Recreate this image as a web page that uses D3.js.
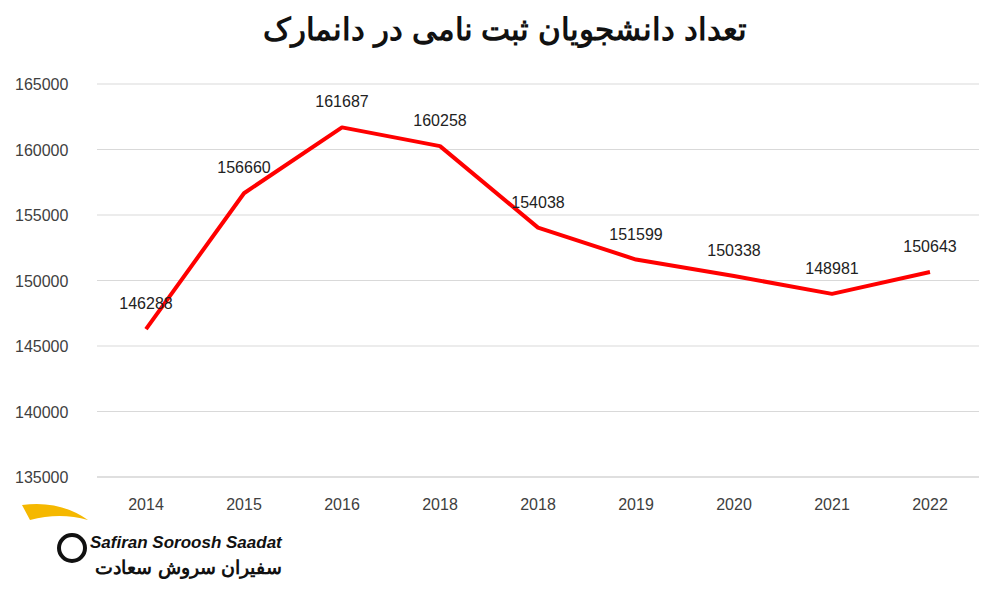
<!DOCTYPE html>
<html><head><meta charset="utf-8">
<script src="https://cdn.jsdelivr.net/npm/d3@7"></script>
<style>body{margin:0;background:#fff}text{font-family:"Liberation Sans",Arial,sans-serif}</style>
</head><body><svg id="c" width="1000" height="600"></svg>
<script>
var years = ["2014","2015","2016","2018","2018","2019","2020","2021","2022"];
var students = [146288,156660,161687,160258,154038,151599,150338,148981,150643];
var yTicks = [135000,140000,145000,150000,155000,160000,165000];

var svg = d3.select("#c");
var x = d3.scaleBand().domain(d3.range(years.length)).range([97,979]);
var y = d3.scaleLinear().domain([135000,165000]).range([477,84]);

svg.append("g").selectAll("line").data(yTicks.slice(1)).join("line")
  .attr("x1",97).attr("x2",979).attr("y1",d=>y(d)).attr("y2",d=>y(d))
  .attr("stroke","#d9d9d9");
svg.append("line").attr("x1",97).attr("x2",979).attr("y1",477).attr("y2",477).attr("stroke","#bfbfbf");

svg.append("g").selectAll("text").data(yTicks).join("text")
  .attr("x",15).attr("y",d=>y(d)+6).attr("font-size",16).attr("fill","#404040").text(d=>d);

svg.append("g").selectAll("text").data(years).join("text")
  .attr("x",(d,i)=>x(i)+x.bandwidth()/2).attr("y",510).attr("text-anchor","middle")
  .attr("font-size",16).attr("fill","#404040").text(d=>d);

var line = d3.line().x((d,i)=>x(i)+x.bandwidth()/2).y(d=>y(d));
svg.append("path").datum(students).attr("d",line).attr("fill","none")
  .attr("stroke","#ff0000").attr("stroke-width",4).attr("stroke-linejoin","round");

svg.append("g").selectAll("text").data(students).join("text")
  .attr("x",(d,i)=>x(i)+x.bandwidth()/2).attr("y",d=>y(d)-20).attr("text-anchor","middle")
  .attr("font-size",16).attr("fill","#222").text(d=>d);

svg.append("text").attr("x",505).attr("y",40).attr("text-anchor","middle")
  .attr("font-size",31).attr("font-weight","bold").attr("fill","#111")
  .attr("font-family","DejaVu Sans").text("تعداد دانشجویان ثبت نامی در  دانمارک");

svg.append("text").attr("x",90).attr("y",548).attr("font-size",17).attr("font-weight","bold")
  .attr("font-style","italic").attr("fill","#111").text("Safiran Soroosh Saadat");
svg.append("text").attr("x",282).attr("y",574).attr("text-anchor","end").attr("font-size",19)
  .attr("font-weight","bold").attr("fill","#111").attr("font-family","DejaVu Sans").text("سفیران سروش سعادت");
svg.append("path").attr("d","M22,505 Q60,500 88,520 Q60,512 30,520 Z").attr("fill","#f5b800");
svg.append("circle").attr("cx",72).attr("cy",548).attr("r",13).attr("fill","none").attr("stroke","#111").attr("stroke-width",4);
</script></body></html>
